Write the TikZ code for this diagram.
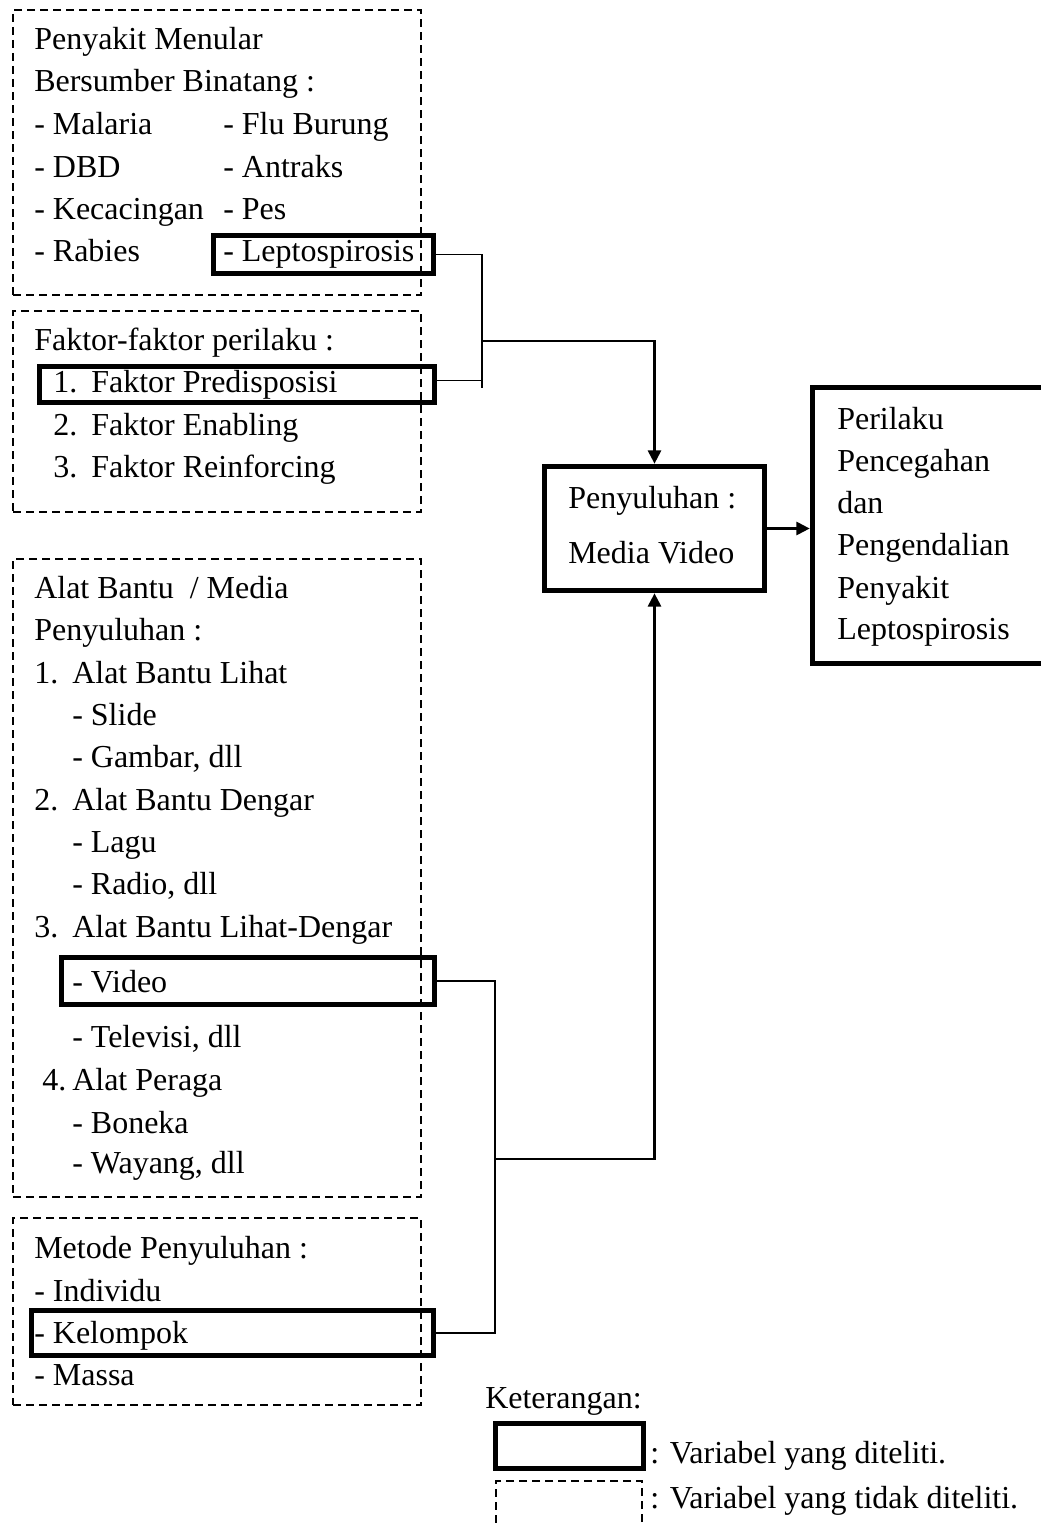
\documentclass[tikz,border=0pt]{standalone}
\usepackage{fontspec}
\setmainfont{Liberation Serif}
\usetikzlibrary{arrows.meta,fit}
\begin{document}
\begin{tikzpicture}[x=0.75pt,y=-0.75pt,
  dbox/.style={draw,line width=1.8pt,dash pattern=on 6pt off 3.75pt,inner sep=0pt},
  tbox/.style={draw,line width=4.3pt,inner sep=0pt},
  txt/.style={anchor=base west,inner sep=0pt,font=\fontsize{24}{28}\selectfont},
  conn/.style={line width=1.3pt},
  arr/.style={line width=1.6pt,-{Triangle[length=10pt,width=10pt]}}]
\useasboundingbox (0,0) rectangle (1040,1527);

% dashed boxes
\node[dbox,fit={(13,10)(421,295)}] (b1) {};
\node[dbox,fit={(13,311)(421,512)}] (b2) {};
\node[dbox,fit={(13,559)(421,1197)}] (b3) {};
\node[dbox,fit={(13,1218)(421,1405)}] (b4) {};

% thick boxes
\node[tbox,fit={(213.5,235.5)(433.5,273.5)}] (lep) {};
\node[tbox,fit={(39.5,366.5)(434.5,402.5)}] (pred) {};
\node[tbox,fit={(61.5,957.5)(434.5,1004.5)}] (vid) {};
\node[tbox,fit={(31.5,1310.5)(433.5,1355.5)}] (kel) {};
\node[tbox,fit={(544.5,466.5)(764.5,590.5)}] (peny) {};
\node[tbox,fit={(812.5,387.5)(1046,663.5)}] (out) {};

% box 1 text
\node[txt] (t11) at (34,50) {Penyakit Menular};
\node[txt] (t12) at (34,92) {Bersumber Binatang :};
\node[txt] (t13) at (34,134) {- Malaria};
\node[txt] (t14) at (223,134) {- Flu Burung};
\node[txt] (t15) at (34,177) {- DBD};
\node[txt] (t16) at (223,177) {- Antraks};
\node[txt] (t17) at (34,219) {- Kecacingan};
\node[txt] (t18) at (223,219) {- Pes};
\node[txt] (t19) at (34,261) {- Rabies};
\node[txt] (t110) at (223,261) {- Leptospirosis};

% box 2 text
\node[txt] (t21) at (34,350) {Faktor-faktor perilaku :};
\node[txt] (t22n) at (53,392) {1.};
\node[txt] (t22) at (91,392) {Faktor Predisposisi};
\node[txt] (t23n) at (53,435) {2.};
\node[txt] (t23) at (91,435) {Faktor Enabling};
\node[txt] (t24n) at (53,477) {3.};
\node[txt] (t24) at (91,477) {Faktor Reinforcing};

% box 3 text
\node[txt] (t31) at (34,598) {Alat Bantu\ \ / Media};
\node[txt] (t32) at (34,640) {Penyuluhan :};
\node[txt] (t33n) at (34,683) {1.};
\node[txt] (t33) at (72,683) {Alat Bantu Lihat};
\node[txt] (t34) at (72,725) {- Slide};
\node[txt] (t35) at (72,767) {- Gambar, dll};
\node[txt] (t36n) at (34,810) {2.};
\node[txt] (t36) at (72,810) {Alat Bantu Dengar};
\node[txt] (t37) at (72,852) {- Lagu};
\node[txt] (t38) at (72,894) {- Radio, dll};
\node[txt] (t39n) at (34,937) {3.};
\node[txt] (t39) at (72,937) {Alat Bantu Lihat-Dengar};
\node[txt] (t310) at (72,992) {- Video};
\node[txt] (t311) at (72,1047) {- Televisi, dll};
\node[txt] (t312n) at (42,1090) {4.};
\node[txt] (t312) at (72,1090) {Alat Peraga};
\node[txt] (t313) at (72,1133) {- Boneka};
\node[txt] (t314) at (72,1173) {- Wayang, dll};

% box 4 text
\node[txt] (t41) at (34,1258) {Metode Penyuluhan :};
\node[txt] (t42) at (34,1301) {- Individu};
\node[txt] (t43) at (34,1343) {- Kelompok};
\node[txt] (t44) at (34,1385) {- Massa};

% penyuluhan text
\node[txt] (tp1) at (568,508) {Penyuluhan :};
\node[txt] (tp2) at (568,563) {Media Video};

% output text
\node[txt] (to1) at (837,429) {Perilaku};
\node[txt] (to2) at (837,471) {Pencegahan};
\node[txt] (to3) at (837,513) {dan};
\node[txt] (to4) at (837,555) {Pengendalian};
\node[txt] (to5) at (837,598) {Penyakit};
\node[txt] (to6) at (837,639) {Leptospirosis};

% connectors
\coordinate (j1) at (482,341);
\coordinate (j1b) at (482,388);
\draw[conn] (lep.east) -| (j1b);
\draw[conn] ([yshift=3pt]pred.east) -- ([yshift=3pt]pred.east -| j1);
\draw[arr] (j1) -| (peny.north);

\coordinate (j2) at (495,1159);
\draw[conn] (vid.east) -| (j2 |- kel.east) -- (kel.east);
\draw[arr] (j2) -| (peny.south);

\draw[arr] (peny.east) -- (peny.east -| out.west);

% legend
\node[txt] (lk) at (485,1408) {Keterangan:};
\node[tbox,fit={(495.5,1423.5)(643.5,1468.5)}] (lt) {};
\node[dbox,fit={(496,1481)(642,1545)}] (ld) {};
\node[txt] (lt1) at (650,1463) {: Variabel yang diteliti.};
\node[txt] (lt2) at (650,1508) {: Variabel yang tidak diteliti.};
\end{tikzpicture}
\end{document}
